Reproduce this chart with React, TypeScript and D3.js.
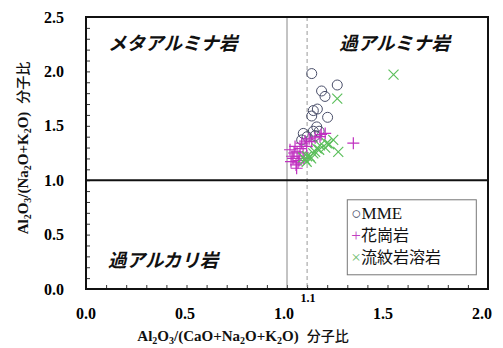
import React, { useEffect, useRef } from "react";
import * as d3 from "d3";

// MME (circles)
const mme: [number, number][] = [
  [1.123, 1.98], [1.172, 1.82], [1.189, 1.77], [1.25, 1.875], [1.131, 1.64],
  [1.151, 1.654], [1.202, 1.578], [1.123, 1.59], [1.148, 1.49], [1.131, 1.45],
  [1.081, 1.43], [1.073, 1.37], [1.1, 1.4], [1.14, 1.41], [1.16, 1.45],
];
// 花崗岩 (plus)
const granite: [number, number][] = [
  [1.33, 1.34], [1.015, 1.28], [1.03, 1.2], [1.048, 1.11], [1.055, 1.16],
  [1.08, 1.25], [1.098, 1.31], [1.123, 1.354], [1.164, 1.4], [1.19, 1.43],
  [1.073, 1.34], [1.04, 1.31], [1.06, 1.22], [1.02, 1.17], [1.035, 1.25],
  [1.065, 1.29], [1.09, 1.36], [1.11, 1.38], [1.14, 1.39], [1.17, 1.42],
  [1.045, 1.14], [1.06, 1.18], [1.025, 1.22], [1.05, 1.26], [1.085, 1.2],
];
// 流紋岩溶岩 (cross)
const rhyolite: [number, number][] = [
  [1.53, 1.97], [1.25, 1.75], [1.255, 1.26], [1.198, 1.34], [1.23, 1.37],
  [1.19, 1.3], [1.114, 1.216], [1.131, 1.247], [1.148, 1.293], [1.098, 1.17],
  [1.164, 1.32], [1.1, 1.22], [1.12, 1.2], [1.14, 1.26], [1.08, 1.21],
  [1.16, 1.28], [1.09, 1.19], [1.21, 1.33],
];

const xTicks = [0, 0.5, 1.0, 1.5, 2.0];
const yTicks = [0, 0.5, 1.0, 1.5, 2.0, 2.5];
const legendItems = [
  { sym: "○", label: "MME", color: "#4a4f6a" },
  { sym: "+", label: "花崗岩", color: "#c040c0" },
  { sym: "×", label: "流紋岩溶岩", color: "#6fc06f" },
];

const SERIF = "'Liberation Serif', 'Times New Roman', serif";
const JP = "'Noto Sans CJK JP', sans-serif";

function App() {
  const svgRef = useRef<SVGSVGElement>(null);

  useEffect(() => {
    const W = 503, H = 348;
    const margin = { top: 17, right: 15, bottom: 59, left: 86 };
    const width = W - margin.left - margin.right;
    const height = H - margin.top - margin.bottom;

    const svg = d3.select(svgRef.current);
    svg.selectAll("*").remove();
    svg.append("rect").attr("width", W).attr("height", H).attr("fill", "#fff");

    const g = svg.append("g").attr("transform", `translate(${margin.left},${margin.top})`);

    const x = d3.scaleLinear().domain([0, 2]).range([0, width]);
    const y = d3.scaleLinear().domain([0, 2.5]).range([height, 0]);

    // minor inward ticks on the left and bottom
    const xAxis = d3.axisBottom(x).tickValues(d3.range(0, 2.001, 0.1)).tickSizeInner(-4).tickSizeOuter(0).tickFormat(() => "");
    const yAxis = d3.axisLeft(y).tickValues(d3.range(0, 2.501, 0.1)).tickSizeInner(-4).tickSizeOuter(0).tickFormat(() => "");
    const xg = g.append("g").attr("transform", `translate(0,${height})`).call(xAxis);
    const yg = g.append("g").call(yAxis);
    [xg, yg].forEach((a) => {
      a.select(".domain").remove();
      a.selectAll("line").attr("stroke", "#333").attr("stroke-width", 1);
    });

    // tick labels
    g.append("g").selectAll("text").data(xTicks).join("text")
      .attr("x", (d) => x(d) - d * 3).attr("y", height + 30)
      .attr("text-anchor", "middle")
      .attr("font-family", SERIF).attr("font-weight", "bold").attr("font-size", 16)
      .text((d) => d.toFixed(1));
    g.append("g").selectAll("text").data(yTicks).join("text")
      .attr("x", -22).attr("y", (d) => y(d)).attr("dy", "0.35em")
      .attr("text-anchor", "end")
      .attr("font-family", SERIF).attr("font-weight", "bold").attr("font-size", 16)
      .text((d) => d.toFixed(1));
    g.append("text")
      .attr("x", x(1.1) + 1).attr("y", height + 13)
      .attr("text-anchor", "middle")
      .attr("font-family", SERIF).attr("font-weight", "bold").attr("font-size", 12)
      .text("1.1");

    // reference lines
    g.append("line").attr("x1", x(1)).attr("x2", x(1)).attr("y1", 0).attr("y2", height)
      .attr("stroke", "#888").attr("stroke-width", 1);
    g.append("line").attr("x1", x(1.1)).attr("x2", x(1.1)).attr("y1", 0).attr("y2", height)
      .attr("stroke", "#999").attr("stroke-width", 1).attr("stroke-dasharray", "4,3");
    g.append("line").attr("x1", 0).attr("x2", width).attr("y1", y(1)).attr("y2", y(1))
      .attr("stroke", "#111").attr("stroke-width", 2);

    // region labels
    const region = [
      { t: "メタアルミナ岩", x: 0.11, y: 2.2 },
      { t: "過アルミナ岩", x: 1.26, y: 2.2 },
      { t: "過アルカリ岩", x: 0.11, y: 0.2 },
    ];
    g.append("g").selectAll("text").data(region).join("text")
      .attr("x", (d) => x(d.x)).attr("y", (d) => y(d.y))
      .attr("font-family", JP).attr("font-style", "italic").attr("font-weight", 600)
      .attr("font-size", 18.5).attr("fill", "#111")
      .text((d) => d.t);

    // data marks
    g.append("g").selectAll("circle").data(mme).join("circle")
      .attr("cx", (d) => x(d[0])).attr("cy", (d) => y(d[1])).attr("r", 5)
      .attr("fill", "none").attr("stroke", "#4a4f6a").attr("stroke-width", 1);
    const s = 6;
    g.append("g").selectAll("path").data(granite).join("path")
      .attr("d", (d) => `M${x(d[0]) - s},${y(d[1])}H${x(d[0]) + s}M${x(d[0])},${y(d[1]) - s}V${y(d[1]) + s}`)
      .attr("stroke", "#c030c0").attr("stroke-width", 1.2).attr("fill", "none");
    const c = 5;
    g.append("g").selectAll("path").data(rhyolite).join("path")
      .attr("d", (d) => `M${x(d[0]) - c},${y(d[1]) - c}L${x(d[0]) + c},${y(d[1]) + c}M${x(d[0]) - c},${y(d[1]) + c}L${x(d[0]) + c},${y(d[1]) - c}`)
      .attr("stroke", "#5cbf5c").attr("stroke-width", 1.2).attr("fill", "none");

    // frame
    g.append("rect").attr("width", width).attr("height", height)
      .attr("fill", "none").attr("stroke", "#111").attr("stroke-width", 2);

    // legend
    const lg = g.append("g").attr("transform", `translate(${x(1.3)},${y(0.82)})`);
    lg.append("rect").attr("width", 129).attr("height", 75)
      .attr("fill", "#fff").attr("stroke", "#777").attr("stroke-width", 1);
    legendItems.forEach((it, i) => {
      const t = lg.append("text").attr("x", 4).attr("y", 19 + i * 22)
        .attr("font-size", 17).attr("font-family", SERIF);
      t.append("tspan").attr("fill", it.color).text(it.sym);
      t.append("tspan").attr("fill", "#111")
        .attr("font-family", i === 0 ? SERIF : JP).attr("font-size", i === 0 ? 17 : 16)
        .text(it.label);
    });

    // axis titles with subscripts
    const sub = (t: any, parts: [string, boolean][]) => {
      let low = false;
      parts.forEach(([txt, isSub]) => {
        const ts = t.append("tspan").text(txt);
        if (isSub) {
          ts.attr("font-size", 10);
          if (!low) ts.attr("dy", 3);
          low = true;
        } else if (low) {
          ts.attr("dy", -3);
          low = false;
        }
      });
    };
    const xt = svg.append("text")
      .attr("x", 243).attr("y", 341).attr("text-anchor", "middle")
      .attr("font-family", SERIF).attr("font-weight", "bold").attr("font-size", 15).attr("fill", "#111");
    sub(xt, [["Al", false], ["2", true], ["O", false], ["3", true], ["/(CaO+Na", false], ["2", true], ["O+K", false], ["2", true], ["O)", false]]);
    xt.append("tspan").attr("font-family", JP).attr("font-weight", 500).attr("font-size", 14).attr("dx", 8).text("分子比");

    const yt = svg.append("text")
      .attr("transform", `translate(28,148) rotate(-90)`).attr("text-anchor", "middle")
      .attr("font-family", SERIF).attr("font-weight", "bold").attr("font-size", 15).attr("fill", "#111");
    sub(yt, [["Al", false], ["2", true], ["O", false], ["3", true], ["/(Na", false], ["2", true], ["O+K", false], ["2", true], ["O)", false]]);
    yt.append("tspan").attr("font-family", JP).attr("font-weight", 500).attr("font-size", 14).attr("dx", 8).text("分子比");
  }, []);

  return (
    <svg ref={svgRef} width={503} height={348}
      style={{ position: "absolute", left: 0, top: 0, display: "block" }} />
  );
}

export default App;
